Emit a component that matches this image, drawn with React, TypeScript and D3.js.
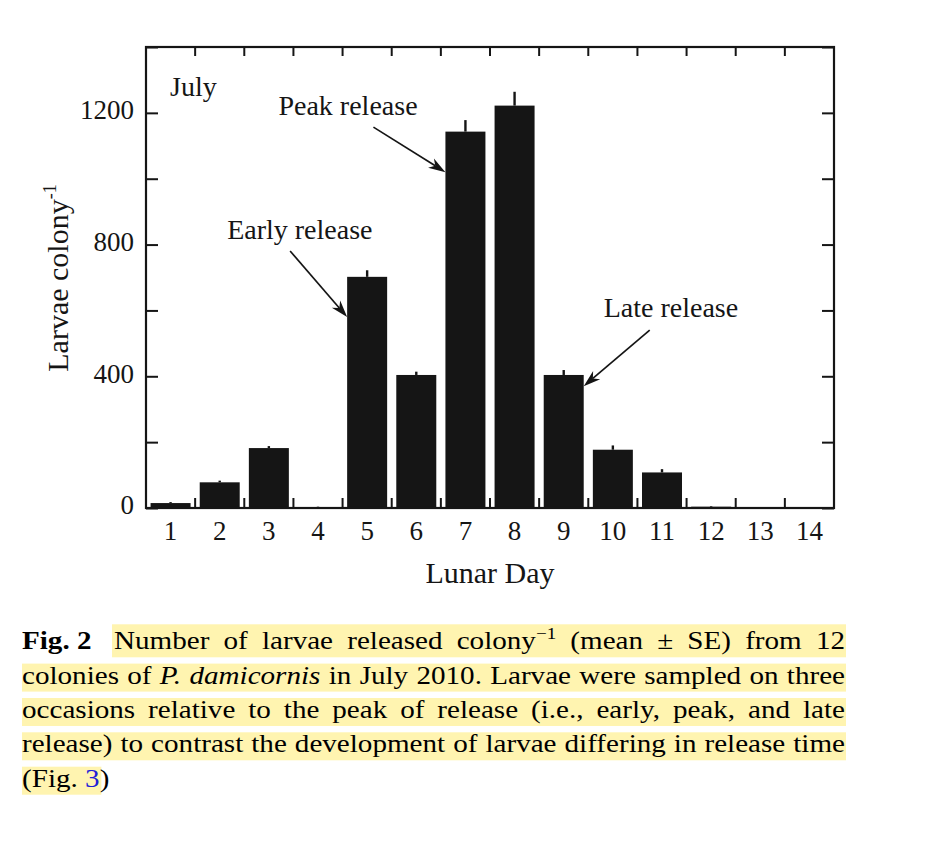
import { useEffect, useRef } from "react";
import * as d3 from "d3";

// lunar days and larvae released per colony (mean, SE)
const days = ["1", "2", "3", "4", "5", "6", "7", "8", "9", "10", "11", "12", "13", "14"];
const larvaeMean = [15, 78, 182, 3, 702, 404, 1143, 1222, 404, 177, 108, 4, 0, 0];
const larvaeSE = [3, 5, 6, 1, 20, 10, 35, 42, 15, 13, 10, 2, 0, 0];

const yTicks = [0, 200, 400, 600, 800, 1000, 1200, 1400];
const yTickLabels = [0, 400, 800, 1200];

const panelLabel = "July";
const xTitle = "Lunar Day";
const yTitle = "Larvae colony";

// arrows point at a bar edge at a given value
const annotations = [
    { label: "Early release", day: "5", edge: "left", value: 580 },
    { label: "Peak release", day: "7", edge: "left", value: 1020 },
    { label: "Late release", day: "9", edge: "right", value: 370 },
];

// caption, split in the lines of the page
const captionHead = "Fig. 2";
const captionLines = [
    [{ t: "Number of larvae released colony" }, { t: "\u22121", sup: true }, { t: " (mean \u00b1 SE) from 12" }],
    [{ t: "colonies of " }, { t: "P. damicornis", it: true }, { t: " in July 2010. Larvae were sampled on three" }],
    [{ t: "occasions relative to the peak of release (i.e., early, peak, and late" }],
    [{ t: "release) to contrast the development of larvae differing in release time" }],
    [{ t: "(Fig. " }, { t: "3", link: true }, { t: ")" }],
];

export default function App() {
    const ref = useRef<SVGSVGElement>(null);

    useEffect(() => {
        const svg = d3.select(ref.current);
        svg.selectAll("*").remove();

        const font = '"Liberation Serif", "Times New Roman", Times, serif';
        const ink = "#151515";
        const left = 146, right = 834, top = 47, bottom = 508;

        const x = d3.scaleBand().domain(days).range([left, right]).paddingInner(0.186).paddingOuter(0.093);
        const y = d3.scaleLinear().domain([0, 1400]).range([bottom, top]);

        const rows = days.map((d, i) => ({ day: d, mean: larvaeMean[i], se: larvaeSE[i] }));

        // bars
        svg.append("g")
            .selectAll("rect")
            .data(rows)
            .join("rect")
            .attr("x", (d) => x(d.day))
            .attr("y", (d) => y(d.mean))
            .attr("width", x.bandwidth())
            .attr("height", (d) => y(0) - y(d.mean))
            .attr("fill", ink);

        // upper error bars
        svg.append("g")
            .selectAll("line")
            .data(rows.filter((d) => d.se > 0))
            .join("line")
            .attr("x1", (d) => x(d.day) + x.bandwidth() / 2)
            .attr("x2", (d) => x(d.day) + x.bandwidth() / 2)
            .attr("y1", (d) => y(d.mean))
            .attr("y2", (d) => y(d.mean + d.se))
            .attr("stroke", ink)
            .attr("stroke-width", 2.4);

        // y axes, ticks inward on both sides
        const yLeft = svg.append("g")
            .attr("transform", `translate(${left},0)`)
            .call(
                d3.axisLeft(y)
                    .tickValues(yTicks)
                    .tickSize(-12)
                    .tickPadding(12)
                    .tickFormat((d) => (yTickLabels.includes(+d) ? String(d) : ""))
            );
        const yRight = svg.append("g")
            .attr("transform", `translate(${right},0)`)
            .call(d3.axisRight(y).tickValues(yTicks).tickSize(-12).tickFormat(() => ""));

        // x axis labels at band centres
        const xAxis = svg.append("g")
            .attr("transform", `translate(0,${bottom})`)
            .call(d3.axisBottom(x).tickSize(0).tickPadding(13));

        for (const g of [yLeft, yRight, xAxis]) {
            g.select(".domain").remove();
            g.selectAll("line").attr("stroke", ink).attr("stroke-width", 2);
            g.selectAll("text").attr("font-family", font).attr("font-size", 27).attr("fill", ink);
        }
        yLeft.selectAll("text").attr("dy", "0.22em");

        // ticks between the bars, top and bottom
        const gap = (x.step() - x.bandwidth()) / 2;
        const boundaries = days.slice(1).map((d) => x(d) - gap);
        const edgeTicks = svg.append("g").attr("stroke", ink).attr("stroke-width", 2);
        edgeTicks.selectAll(".bt")
            .data(boundaries)
            .join("line")
            .attr("x1", (d) => d).attr("x2", (d) => d)
            .attr("y1", bottom).attr("y2", bottom - 10);
        edgeTicks.selectAll(".tt")
            .data(boundaries)
            .join("line")
            .attr("x1", (d) => d).attr("x2", (d) => d)
            .attr("y1", top).attr("y2", top + 9);

        // frame
        svg.append("rect")
            .attr("x", left).attr("y", top)
            .attr("width", right - left).attr("height", bottom - top)
            .attr("fill", "none").attr("stroke", ink).attr("stroke-width", 2.2);

        // axis titles
        svg.append("text")
            .attr("x", (left + right) / 2)
            .attr("y", 583)
            .attr("text-anchor", "middle")
            .attr("font-family", font).attr("font-size", 30).attr("fill", ink)
            .text(xTitle);

        const yt = svg.append("text")
            .attr("transform", `translate(68,278) rotate(-90)`)
            .attr("text-anchor", "middle")
            .attr("font-family", font).attr("font-size", 30).attr("fill", ink);
        yt.append("tspan").text(yTitle);
        yt.append("tspan").attr("font-size", 18).attr("dy", -12).text("-1");

        // panel label
        svg.append("text")
            .attr("x", left + 24).attr("y", top + 49)
            .attr("font-family", font).attr("font-size", 28).attr("fill", ink)
            .text(panelLabel);

        // annotations with arrows
        const layout: Record<string, { tail: [number, number]; text: [number, number] }> = {
            "Early release": { tail: [-57, -66], text: [-120, -78] },
            "Peak release": { tail: [-72, -45], text: [-167, -57] },
            "Late release": { tail: [66, -56], text: [20, -69] },
        };
        const ann = svg.append("g");
        for (const a of annotations) {
            const tipX = a.edge === "left" ? x(a.day) : x(a.day) + x.bandwidth();
            const tipY = y(a.value);
            const l = layout[a.label];
            const tx = tipX + l.tail[0], ty = tipY + l.tail[1];
            const ang = Math.atan2(tipY - ty, tipX - tx);
            const cos = Math.cos(ang), sin = Math.sin(ang);
            const headLen = 17, half = 5.5, notch = 12;
            ann.append("line")
                .attr("x1", tx).attr("y1", ty)
                .attr("x2", tipX - cos * notch).attr("y2", tipY - sin * notch)
                .attr("stroke", ink).attr("stroke-width", 1.7);
            const pts = [[0, 0], [-headLen, -half], [-notch, 0], [-headLen, half]].map(
                ([px, py]) => [tipX + px * cos - py * sin, tipY + px * sin + py * cos].join(",")
            );
            ann.append("polygon").attr("points", pts.join(" ")).attr("fill", ink);
            ann.append("text")
                .attr("x", tipX + l.text[0]).attr("y", tipY + l.text[1])
                .attr("font-family", font).attr("font-size", 28).attr("fill", ink)
                .text(a.label);
        }

        // caption with highlighted, justified lines (the page's type runs a bit wide)
        const sx = 1.12;
        const cap = svg.append("g");
        const baselines = [649.3, 683.6, 718, 752.3, 786.7];
        const hl = cap.append("g");
        const txt = cap.append("g").attr("font-family", font).attr("font-size", 26).attr("fill", "#000");

        txt.append("text")
            .attr("transform", `translate(22,${baselines[0]}) scale(${sx},1)`)
            .attr("font-weight", "bold")
            .text(captionHead);

        captionLines.forEach((parts, i) => {
            const x0 = i === 0 ? 114 : 22;
            const x1 = 845;
            const t = txt.append("text").attr("transform", `translate(${x0},${baselines[i]}) scale(${sx},1)`);
            let shifted = false;
            for (const p of parts) {
                const s = t.append("tspan").text(p.t);
                if (p.it) s.attr("font-style", "italic");
                if (p.link) s.attr("fill", "#1f1fd6");
                if (p.sup) {
                    s.attr("font-size", 17).attr("dy", -10);
                    shifted = true;
                } else if (shifted) {
                    s.attr("dy", 10);
                    shifted = false;
                }
            }
            const node = t.node() as SVGTextElement;
            const natural = node.getComputedTextLength();
            const full = parts.map((p) => p.t).join("");
            const spaces = (full.match(/ /g) || []).length;
            const justify = i < captionLines.length - 1;
            if (justify && spaces > 0) {
                t.attr("word-spacing", ((x1 - x0) / sx - natural) / spaces);
            }
            const hx0 = i === 0 ? 112 : 22;
            const hx1 = justify ? 846 : x0 + natural * sx - 8;
            const hTop = i === 0 ? baselines[i] - 25 : baselines[i] - 20;
            const hBot = baselines[i] + 8;
            hl.append("rect")
                .attr("x", hx0).attr("y", hTop)
                .attr("width", hx1 - hx0).attr("height", hBot - hTop)
                .attr("fill", "#fff4b0");
        });
    }, []);

    return (
        <svg
            ref={ref}
            width={948}
            height={858}
            style={{ position: "absolute", left: 0, top: 0, background: "#fff" }}
        ></svg>
    );
}
